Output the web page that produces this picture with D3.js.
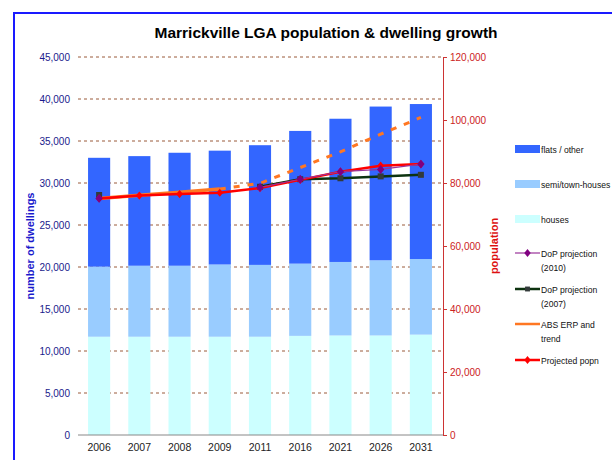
<!DOCTYPE html>
<html><head><meta charset="utf-8">
<script src="https://cdn.jsdelivr.net/npm/d3@7"></script>
<style>body{margin:0;background:#fff;} svg{display:block;font-family:"Liberation Sans",Arial,sans-serif;}</style>
</head><body><svg id="c" width="612" height="460"></svg>
<script>
const years = ["2006","2007","2008","2009","2011","2016","2021","2026","2031"];
const houses = [11700,11700,11700,11700,11700,11800,11850,11850,11950];
const semiHouses = [8340,8450,8450,8600,8550,8600,8750,8950,9000];
const flatsOther = [12960,13050,13450,13550,14250,15800,17050,18300,18450];
const dop2010 = [75100,null,null,null,78600,81200,83600,84300,86000];
const dop2007 = [76200,null,null,null,78800,81200,81500,82100,82600];
const absErp = [75100,76100,77100,78100,null,null,null,null,null];
const absTrend = [null,null,null,78100,79900,84900,89900,95500,100800];
const projected = [75100,76000,76500,76900,78400,81000,83600,85500,86000];
const leftTicks = [0,5000,10000,15000,20000,25000,30000,35000,40000,45000];
const rightTicks = [0,20000,40000,60000,80000,100000,120000];

const svg = d3.select("#c");
const fmt = d3.format(",");
const X0=79, X1=441, Y0=435, Y1=57;
const x = d3.scaleBand().domain(years).range([X0,X1]).paddingInner(0.45).paddingOuter(0.225);
const yL = d3.scaleLinear().domain([0,45000]).range([Y0,Y1]);
const yR = d3.scaleLinear().domain([0,120000]).range([Y0,Y1]);
const cx = d => x(d) + x.bandwidth()/2;

// border
svg.append("rect").attr("x",14).attr("y",13).attr("width",620).attr("height",460)
  .attr("fill","none").attr("stroke","#1a1aff").attr("stroke-width",2);

// title
svg.append("text").attr("x",326).attr("y",38).attr("text-anchor","middle")
  .attr("font-size",15.5).attr("font-weight","bold").attr("fill","#000")
  .text("Marrickville LGA population & dwelling growth");

// gridlines
svg.append("g").selectAll("line").data(leftTicks.filter(d=>d>0)).join("line")
  .attr("x1",78).attr("x2",443).attr("y1",d=>yL(d)).attr("y2",d=>yL(d))
  .attr("stroke","#9a5a3a").attr("stroke-width",1).attr("stroke-dasharray","3,3");

// bars
const table = years.map((y,i)=>({year:y,houses:houses[i],semi:semiHouses[i],flats:flatsOther[i]}));
const keys = ["houses","semi","flats"];
const colors = {houses:"#ccffff",semi:"#99ccff",flats:"#3366ff"};
const stacked = d3.stack().keys(keys)(table);
svg.append("g").selectAll("g").data(stacked).join("g").attr("fill",d=>colors[d.key])
  .selectAll("rect").data(d=>d).join("rect")
  .attr("x",d=>x(d.data.year)).attr("width",x.bandwidth())
  .attr("y",d=>yL(d[1])).attr("height",d=>yL(d[0])-yL(d[1]));

// left axis
const gl = svg.append("g").attr("transform",`translate(78,0)`)
  .call(d3.axisLeft(yL).tickValues(leftTicks).tickFormat(fmt).tickSize(0).tickPadding(8));
gl.select(".domain").remove();
gl.selectAll("text").attr("fill","#1a1a8c").attr("font-size",10).attr("font-family","Liberation Sans, Arial");

// right axis
const gr = svg.append("g").attr("transform",`translate(443,0)`)
  .call(d3.axisRight(yR).tickValues(rightTicks).tickFormat(fmt).tickSize(4).tickPadding(3));
gr.select(".domain").attr("stroke","#cc3333");
gr.selectAll(".tick line").attr("stroke","#cc3333");
gr.selectAll("text").attr("fill","#cc2222").attr("font-size",10).attr("font-family","Liberation Sans, Arial");

// bottom axis
const gb = svg.append("g").attr("transform",`translate(0,${Y0})`)
  .call(d3.axisBottom(x).tickSize(0).tickPadding(9));
gb.select(".domain").attr("d",`M78,0H443`).attr("stroke","#888");
gb.selectAll("text").attr("fill","#222").attr("font-size",10.5).attr("font-family","Liberation Sans, Arial");

// axis titles
svg.append("text").attr("transform","translate(34,246) rotate(-90)").attr("text-anchor","middle")
  .attr("font-size",11).attr("font-weight","bold").attr("fill","#1a1acc").text("number of dwellings");
svg.append("text").attr("transform","translate(498,246) rotate(-90)").attr("text-anchor","middle")
  .attr("font-size",11).attr("font-weight","bold").attr("fill","#dd1111").text("population");

// lines
const line = d3.line().defined(d=>d.v!=null).x(d=>cx(d.year)).y(d=>yR(d.v));
const pts = arr => years.map((y,i)=>({year:y,v:arr[i]}));
const diamond = d3.symbol().type(d3.symbolDiamond);
const square = d3.symbol().type(d3.symbolSquare);

svg.append("path").datum(pts(absTrend)).attr("d",line).attr("fill","none")
  .attr("stroke","#ff7722").attr("stroke-width",3).attr("stroke-dasharray","6,8");
svg.append("path").datum(pts(absErp)).attr("d",line).attr("fill","none")
  .attr("stroke","#ff7722").attr("stroke-width",3.5);

svg.append("path").datum(pts(dop2007)).attr("d",line).attr("fill","none")
  .attr("stroke","#0d3310").attr("stroke-width",2.5);
svg.append("g").selectAll("path").data(pts(dop2007).filter(d=>d.v!=null)).join("path")
  .attr("d",square.size(36)()).attr("transform",d=>`translate(${cx(d.year)},${yR(d.v)})`).attr("fill","#333a3a");

svg.append("path").datum(pts(projected)).attr("d",line).attr("fill","none")
  .attr("stroke","#ff0000").attr("stroke-width",2.5);
svg.append("g").selectAll("path").data(pts(projected)).join("path")
  .attr("d",diamond.size(24)()).attr("transform",d=>`translate(${cx(d.year)},${yR(d.v)}) scale(1.3,0.9)`).attr("fill","#ff0000");

svg.append("path").datum(pts(dop2010)).attr("d",line).attr("fill","none")
  .attr("stroke","#993399").attr("stroke-width",1.2);
svg.append("g").selectAll("path").data(pts(dop2010).filter(d=>d.v!=null)).join("path")
  .attr("d",diamond.size(28)()).attr("transform",d=>`translate(${cx(d.year)},${yR(d.v)}) scale(1.3,0.9)`).attr("fill","#800080");

// legend
const legItems = [
  {t:["flats / other"],y:149,type:"rect",c:"#3366ff"},
  {t:["semi/town-houses"],y:184,type:"rect",c:"#99ccff"},
  {t:["houses"],y:219,type:"rect",c:"#ccffff"},
  {t:["DoP projection","(2010)"],y:253,type:"line",c:"#993399",w:1.2,m:"diamond",mc:"#800080"},
  {t:["DoP projection","(2007)"],y:289,type:"line",c:"#0d3310",w:2.5,m:"square",mc:"#333a3a"},
  {t:["ABS ERP and","trend"],y:324,type:"line",c:"#ff7722",w:2.5},
  {t:["Projected popn"],y:360,type:"line",c:"#ff0000",w:2.5,m:"diamond",mc:"#ff0000"}
];
const lg = svg.append("g");
legItems.forEach(it=>{
  if(it.type==="rect"){
    lg.append("rect").attr("x",515).attr("y",it.y-4).attr("width",25).attr("height",8).attr("fill",it.c);
  } else {
    lg.append("line").attr("x1",515).attr("x2",540).attr("y1",it.y).attr("y2",it.y)
      .attr("stroke",it.c).attr("stroke-width",it.w);
    if(it.m){
      const s = it.m==="diamond"? diamond.size(22)() : square.size(24)();
      lg.append("path").attr("d",s).attr("transform",`translate(527.5,${it.y}) ${it.m==="diamond"?"scale(1.3,0.9)":""}`).attr("fill",it.mc);
    }
  }
  it.t.forEach((tt,j)=>{
    lg.append("text").attr("x",541).attr("y",it.y+3.5+j*14.5).attr("font-size",8.6)
      .attr("fill","#111").text(tt);
  });
});
</script></body></html>
